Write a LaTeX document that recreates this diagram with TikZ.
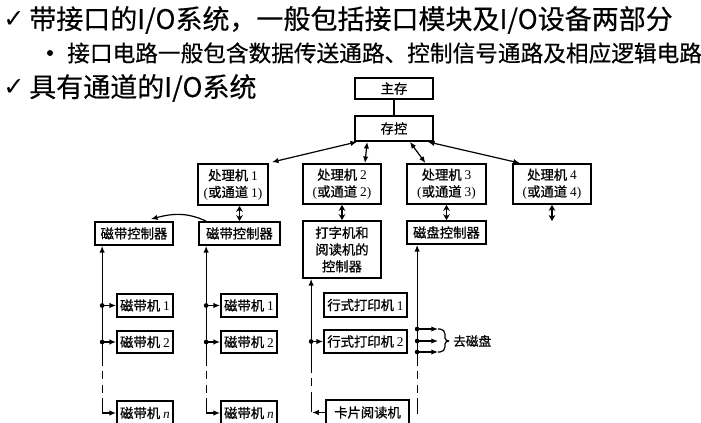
\documentclass[tikz,border=0pt]{standalone}
\usepackage{fontspec}
\setmainfont{Liberation Serif}
\newfontfamily\cjk{Noto Sans CJK SC}
\newfontfamily\cjkb[FakeBold=0.8]{Noto Sans CJK SC}
\newfontfamily\cjkh[FakeBold=0.4]{Noto Sans CJK SC}
\newfontfamily\dejavu{DejaVu Sans}
\usetikzlibrary{arrows.meta,calc}
\newcommand\bx[6]{\node[box, minimum width={(#4-#2)*0.75pt}, minimum height={(#5-#3)*0.75pt}] (#1) at ({(#2+#4)/2},{(#3+#5)/2}) {#6};}
\begin{document}
\begin{tikzpicture}[x=0.75pt,y=-0.75pt,
  box/.style={draw, line width=1.3pt, inner sep=0pt, align=center,
    font=\cjkb\fontsize{10pt}{12.6pt}\selectfont},
  conn/.style={line width=0.9pt},
  tip/.style={-{Latex[length=5pt,width=4pt]}},
  dbl/.style={line width=0.9pt, {Latex[length=5pt,width=4pt]}-{Latex[length=5pt,width=4pt]}},
  fat/.style={line width=1.4pt, {Stealth[length=4.5pt,width=5pt]}-{Stealth[length=4.5pt,width=5pt]}},
  head/.style={inner sep=0pt, anchor=west, font=\cjkh\fontsize{20.25pt}{24pt}\selectfont},
  sub/.style={inner sep=0pt, anchor=west, font=\cjkh\fontsize{17pt}{20pt}\selectfont},
  dot/.style={circle, fill, inner sep=0pt, minimum size=3.5pt}]
\useasboundingbox (0,0) rectangle (701,423);
% headings
\node[inner sep=0pt, font=\dejavu\bfseries\fontsize{19pt}{22pt}\selectfont] (ck1) at (14,20) {✓};
\node[head] (h1) at (29,20) {带接口的I/O系统，一般包括接口模块及I/O设备两部分};
\node[circle, fill, inner sep=0pt, minimum size=4.5pt] (bl) at (50,53) {};
\node[sub] (h2) at (67,53) {接口电路一般包含数据传送通路、控制信号通路及相应逻辑电路};
\node[inner sep=0pt, font=\dejavu\bfseries\fontsize{19pt}{22pt}\selectfont] (ck2) at (14,88) {✓};
\node[head] (h3) at (29,88) {具有通道的I/O系统};
% boxes
\bx{zc}{355}{78}{433}{99}{主存}
\bx{ck}{355}{116}{433}{141}{存控}
\bx{p1}{198}{164}{268}{205}{处理机 {\rmfamily 1}\\{\rmfamily(}或通道 {\rmfamily 1)}}
\bx{p2}{303}{164}{381}{204}{处理机 {\rmfamily 2}\\{\rmfamily(}或通道 {\rmfamily 2)}}
\bx{p3}{407}{164}{486}{204}{处理机 {\rmfamily 3}\\{\rmfamily(}或通道 {\rmfamily 3)}}
\bx{p4}{513}{164}{591}{204}{处理机 {\rmfamily 4}\\{\rmfamily(}或通道 {\rmfamily 4)}}
\bx{c1}{95}{222}{173}{245}{磁带控制器}
\bx{c2}{199}{222}{280}{245}{磁带控制器}
\bx{c3}{303}{221}{381}{278}{打字机和\\阅读机的\\控制器}
\bx{c4}{407}{221}{486}{244}{磁盘控制器}
\bx{t11}{117}{294}{173}{317}{磁带机 {\rmfamily 1}}
\bx{t12}{117}{331}{173}{353}{磁带机 {\rmfamily 2}}
\bx{t1n}{117}{401}{173}{425}{磁带机 {\rmfamily\itshape n}}
\bx{t21}{221}{294}{277}{317}{磁带机 {\rmfamily 1}}
\bx{t22}{221}{331}{277}{353}{磁带机 {\rmfamily 2}}
\bx{t2n}{221}{401}{277}{425}{磁带机 {\rmfamily\itshape n}}
\bx{lp1}{324}{293}{407}{317}{行式打印机 {\rmfamily 1}}
\bx{lp2}{324}{330}{407}{353}{行式打印机 {\rmfamily 2}}
\bx{kp}{326}{400}{409}{425}{卡片阅读机}
% top connections
\draw[conn] (zc) -- (ck);
\draw[dbl] ($(ck.south west)+(3,0)$) -- ($(p1.north east)+(3,-1)$);
\draw[dbl] ($(ck.south west)+(13,0)$) -- ($(p2.north)+(23,0)$);
\draw[dbl] ($(ck.south east)+(-24,0)$) -- ($(p3.north)+(-21,0)$);
\draw[dbl] ($(ck.south east)+(-6,0)$) -- ($(p4.north)+(-32,0)$);
\draw[fat] (c2.north |- p1.south) -- (c2.north);
\draw[fat] (p2.south) -- (c3.north);
\draw[fat] (c4.north |- p3.south) -- (c4.north);
\coordinate (p4e) at (552,221);
\draw[fat] (p4.south) -- (p4e);
\draw[conn,tip] ($(c2.north west)+(8,0)$) to[out=155,in=15] ($(c1.north east)+(-23,-2)$);
% bus columns
\coordinate (b1t) at ($(c1.south west)+(8,0)$);
\coordinate (b2t) at ($(c2.south west)+(8,0)$);
\coordinate (b3t) at ($(c3.south west)+(9,0)$);
\coordinate (b4t) at ($(c4.south west)+(11,0)$);
\foreach \b/\n in {b1/t1, b2/t2} {
  \coordinate (\b m) at (\b t |- 0,358);
  \coordinate (\b d) at (\b t |- 0,400);
  \draw[conn,tip] (\b m) -- (\b t);
  \draw[conn,dashed,dash pattern=on 6pt off 4pt] (\b m) -- (\b d);
  \draw[conn,tip] (\b d) |- (\n n.west);
  \node[dot] at (\b t |- \n 1.west) {};
  \node[dot] at (\b t |- \n 2.west) {};
  \draw[conn,tip] (\b t |- \n 1.west) -- (\n 1.west);
  \draw[conn,tip] (\b t |- \n 2.west) -- (\n 2.west);
}
% column 3
\coordinate (b3m) at (b3t |- 0,365);
\coordinate (b3d) at (b3t |- 0,400);
\draw[conn,tip] (b3m) -- (b3t);
\draw[conn,dashed,dash pattern=on 6pt off 4pt] (b3m) -- (b3d);
\draw[conn] (b3d) -- (b3d |- kp.west);
\draw[conn,tip] (kp.west) -- ($(b3d |- kp.west)+(1,0)$);
\node[dot] at (b3t |- lp2.west) {};
\draw[conn,tip] (b3t |- lp2.west) -- (lp2.west);
% column 4
\coordinate (b4m) at (b4t |- 0,358);
\coordinate (b4d) at (b4t |- 0,400);
\coordinate (b4e) at (b4t |- 0,414);
\draw[conn,tip] (b4m) -- (b4t);
\draw[conn,dashed,dash pattern=on 6pt off 4pt] (b4m) -- (b4d);
\draw[conn] (b4d) -- (b4e);
\foreach \y/\k in {329/1,341/2,352/3} {
  \coordinate (g\k) at (438,\y);
  \node[dot] at (b4t |- g\k) {};
  \draw[conn,tip] (b4t |- g\k) -- (g\k);
}
\draw[conn] (g1) -- ++(2,0) to[out=0,in=90] (445,334) -- (445,338) to[out=270,in=180] (449,341);
\draw[conn] (449,341) to[out=180,in=90] (445,344) -- (445,347) to[out=270,in=0] (440,352) -- (g3);
\node[inner sep=0pt, anchor=west, font=\cjkb\fontsize{9.5pt}{11pt}\selectfont] (qcp) at (453,341) {去磁盘};
\end{tikzpicture}
\end{document}
